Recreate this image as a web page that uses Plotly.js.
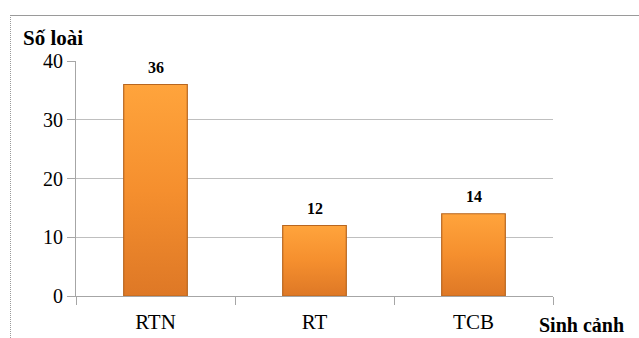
<!DOCTYPE html>
<html><head><meta charset="utf-8">
<script src="https://cdn.plot.ly/plotly-3.0.1.min.js"></script>
<style>
html,body{margin:0;padding:0;background:#fff;}
#frame{position:absolute;left:10px;top:15px;width:640px;height:330px;border-left:1px dotted #9a9a9a;border-top:1px solid #9a9a9a;}
#chart{position:absolute;left:0;top:0;width:639px;height:338px;}
</style></head>
<body>
<div id="frame"></div>
<div id="chart"></div>
<script>
const categories = ['RTN', 'RT', 'TCB'];
const values = [36, 12, 14];
const labels = ['36', '12', '14'];
const yTicks = [0, 10, 20, 30, 40];

const SERIF = 'Liberation Serif';

const trace = {
  type: 'bar',
  x: categories,
  y: values,
  marker: {color: '#F08A2A', line: {color: '#B8661F', width: 1.2}},
  width: 0.4,
  hoverinfo: 'none'
};

const valueLabels = categories.map((c, i) => ({
  x: c, y: values[i], xref: 'x', yref: 'y', text: labels[i],
  showarrow: false, yanchor: 'bottom', yshift: 7,
  font: {family: SERIF, size: 16, color: '#000', weight: 'bold'}
}));

const layout = {
  width: 639, height: 338,
  margin: {l: 76, r: 86, t: 61, b: 42},
  paper_bgcolor: 'rgba(0,0,0,0)',
  plot_bgcolor: 'rgba(0,0,0,0)',
  showlegend: false,
  xaxis: {
    type: 'category',
    showline: true, linecolor: '#A6A6A6', linewidth: 1,
    ticks: 'outside', tickson: 'boundaries', ticklen: 8, tickcolor: '#A6A6A6',
    ticklabelstandoff: 7,
    tickfont: {family: SERIF, size: 21, color: '#000'},
    showgrid: false, zeroline: false
  },
  yaxis: {
    range: [0, 40], tickvals: yTicks, ticktext: yTicks.map(String),
    showline: true, linecolor: '#A6A6A6', linewidth: 1,
    ticks: 'outside', ticklen: 8, tickcolor: '#A6A6A6',
    tickfont: {family: SERIF, size: 20, color: '#000'},
    showgrid: true, gridcolor: '#BFBFBF', gridwidth: 1,
    zeroline: false
  },
  annotations: valueLabels.concat([
    {text: 'Số loài', xref: 'paper', yref: 'paper', x: -0.115, y: 1.04, xanchor: 'left', yanchor: 'bottom',
     showarrow: false, font: {family: SERIF, size: 21, color: '#000', weight: 'bold'}},
    {text: 'Sinh cảnh', xref: 'paper', yref: 'paper', x: 1.153, y: -0.123, xanchor: 'right', yanchor: 'middle',
     showarrow: false, font: {family: SERIF, size: 20, color: '#000', weight: 'bold'}}
  ])
};

Plotly.newPlot('chart', [trace], layout, {displayModeBar: false, staticPlot: true}).then(gd => {
  const svg = gd.querySelector('svg.main-svg');
  const ns = 'http://www.w3.org/2000/svg';
  let defs = svg.querySelector('defs');
  if (!defs) { defs = document.createElementNS(ns, 'defs'); svg.insertBefore(defs, svg.firstChild); }
  const g = document.createElementNS(ns, 'linearGradient');
  g.setAttribute('id', 'barGrad');
  g.setAttribute('x1', '0'); g.setAttribute('y1', '0'); g.setAttribute('x2', '0'); g.setAttribute('y2', '1');
  [['0', '#FFA43C'], ['0.5', '#F58F2E'], ['1', '#DE7826']].forEach(([o, c]) => {
    const s = document.createElementNS(ns, 'stop');
    s.setAttribute('offset', o); s.setAttribute('stop-color', c);
    g.appendChild(s);
  });
  defs.appendChild(g);
  gd.querySelectorAll('.bars .point path').forEach(p => { p.style.fill = 'url(#barGrad)'; });
});
</script>
</body></html>
